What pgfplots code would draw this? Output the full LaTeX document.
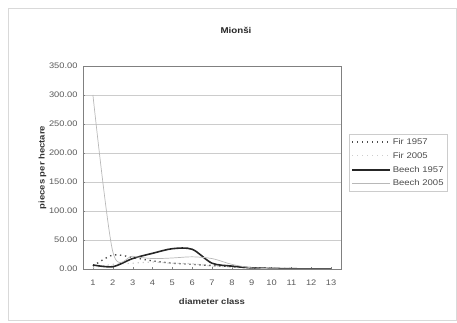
\documentclass[border=0pt]{standalone}
\usepackage{pgfplots}
\pgfplotsset{compat=1.18}
\usepackage{fontspec}
\setmainfont[FakeStretch=1.16]{Liberation Sans}

\definecolor{firold}{gray}{0.30}
\definecolor{firnew}{gray}{0.80}
\definecolor{beechnew}{gray}{0.72}
\definecolor{gridc}{gray}{0.80}
\definecolor{framec}{gray}{0.50}

\begin{document}
\begin{tikzpicture}
\path[use as bounding box] (0pt,0pt) rectangle (457pt,323pt);
\draw[gray!30, line width=0.6pt] (8pt,3pt) rectangle (456.5pt,315pt);
\node[font=\bfseries\fontsize{8.4}{10}\selectfont, text=black!85] at (236pt,293pt) {Mionši};
\begin{axis}[
  at={(83pt,54pt)}, anchor=south west,
  scale only axis, width=258pt, height=203pt,
  xmin=0.5, xmax=13.5, ymin=0, ymax=350,
  xtick={1,...,13},
  ytick={0,50,...,350},
  tick label style={font=\fontsize{8}{10}\selectfont, text=black!65},
  xticklabel style={yshift=-7pt},
  yticklabel style={xshift=-2pt, /pgf/number format/.cd, fixed, fixed zerofill, precision=2},
  /pgf/number format/assume math mode=true,
  ymajorgrids, grid style={gridc, line width=0.5pt},
  axis line style={framec, line width=0.6pt},
  major tick length=2pt,
  tick style={framec},
  xtick pos=bottom, ytick pos=left,
  xlabel={\bfseries diameter class},
  ylabel={\bfseries pieces per hectare},
  label style={font=\bfseries\fontsize{8.2}{10}\selectfont, text=black!80},
  xlabel style={yshift=-6pt},
  ylabel style={yshift=-4pt},
  legend style={at={(1.031,0.665)}, anchor=north west, draw=gray!40,
    font=\fontsize{8.2}{10}\selectfont, row sep=2.5pt, inner sep=2pt,
    cells={anchor=west}, text=black!70},
  legend cell align=left,
  legend image code/.code={\draw[#1] (0pt,0pt) -- (38pt,0pt);},
  every axis plot/.append style={smooth, tension=0.5},
]
\addplot[firold, line width=1.4pt, dash pattern=on 1.3pt off 3.7pt] coordinates {
 (1,5) (2,24) (3,20) (4,14) (5,10) (6,8) (7,6) (8,4) (9,2) (10,1) (11,0.5) (12,0) (13,0)};
\addlegendentry{Fir 1957}
\addplot[firnew, line width=1.2pt, dash pattern=on 1.3pt off 3.7pt] coordinates {
 (1,2) (2,8) (3,10) (4,12) (5,10) (6,9) (7,5) (8,3) (9,1) (10,0.5) (11,0) (12,0) (13,0)};
\addlegendentry{Fir 2005}
\addplot[black!85, line width=1.6pt] coordinates {
 (1,7) (2,4) (3,18) (4,27) (5,35) (6,34) (7,10) (8,5) (9,2) (10,1) (11,0.5) (12,0) (13,0)};
\addlegendentry{Beech 1957}
\addplot[beechnew, line width=0.7pt] coordinates {
 (1,300) (2,30) (3,22) (4,18) (5,19) (6,21) (7,18) (8,8) (9,2) (10,0.5) (11,0) (12,0) (13,0)};
\addlegendentry{Beech 2005}
\end{axis}
\end{tikzpicture}
\end{document}
